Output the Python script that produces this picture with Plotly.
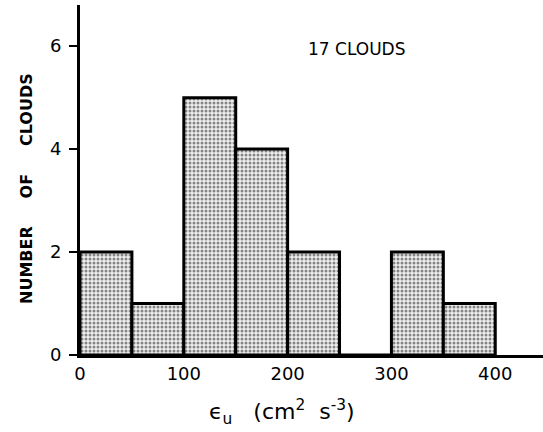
import plotly.graph_objects as go

bin_left = [0, 50, 100, 150, 200, 250, 300, 350]
bin_width = 50
counts = [2, 1, 5, 4, 2, 0, 2, 1]
x_ticks = [0, 100, 200, 300, 400]
y_ticks = [0, 2, 4, 6]

centers = [b + bin_width / 2 for b in bin_left]

fig = go.Figure()
fig.add_trace(go.Bar(
    x=centers, y=counts, width=[bin_width] * len(counts),
    marker=dict(
        color="#ffffff",
        line=dict(color="black", width=3),
        pattern=dict(shape=".", fgcolor="#1a1a1a", bgcolor="#eeeeee", size=4, solidity=0.45),
    ),
    showlegend=False,
    hoverinfo="skip",
))

font_family = "DejaVu Sans, Arial, sans-serif"

W, H = 543, 432
L, R, T, B = 80, 0, 5, 77
pw, ph = W - L - R, H - T - B


def px_x(p):
    return (p - L) / pw


def px_y(p):
    return (H - B - p) / ph


fig.update_layout(
    width=W, height=H,
    margin=dict(l=L, r=R, t=T, b=B, autoexpand=False),
    plot_bgcolor="white", paper_bgcolor="white",
    bargap=0,
    font=dict(family=font_family, color="black"),
    xaxis=dict(
        range=[0, 446], tickmode="array", tickvals=x_ticks,
        ticktext=[str(v) for v in x_ticks],
        showgrid=False, zeroline=False,
        showline=True, linecolor="black", linewidth=3,
        ticks="inside", ticklen=6, tickwidth=2, tickcolor="black",
        tickfont=dict(size=18), fixedrange=True, automargin=False,
    ),
    yaxis=dict(
        range=[0, 6.8], tickmode="array", tickvals=y_ticks,
        showgrid=False, zeroline=False,
        showline=True, linecolor="black", linewidth=3,
        ticks="outside", ticklen=8, tickwidth=2, tickcolor="black",
        ticklabelstandoff=4,
        tickfont=dict(size=18), fixedrange=True, automargin=False,
    ),
    annotations=[
        dict(text="17 CLOUDS", xref="paper", yref="paper",
             x=px_x(356), y=px_y(49), xanchor="center", yanchor="middle",
             showarrow=False, font=dict(size=17, family=font_family)),
        dict(text="<b>NUMBER&nbsp;&nbsp;&nbsp;&nbsp; OF&nbsp;&nbsp;&nbsp;&nbsp; CLOUDS</b>",
             xref="paper", yref="paper",
             x=px_x(26), y=px_y(189), xanchor="center", yanchor="middle",
             showarrow=False, textangle=-90,
             font=dict(size=16, family=font_family)),
        dict(text="ϵ<sub>u</sub>&nbsp;&nbsp; (cm<sup>2</sup>&nbsp; s<sup>-3</sup>)",
             xref="paper", yref="paper",
             x=px_x(282), y=px_y(412), xanchor="center", yanchor="middle",
             showarrow=False, font=dict(size=22, family=font_family)),
    ],
)

fig.write_html(
    "out.html",
    config={"displayModeBar": False, "staticPlot": True},
    post_script="document.body.style.margin='0';document.body.style.overflow='hidden';",
)
